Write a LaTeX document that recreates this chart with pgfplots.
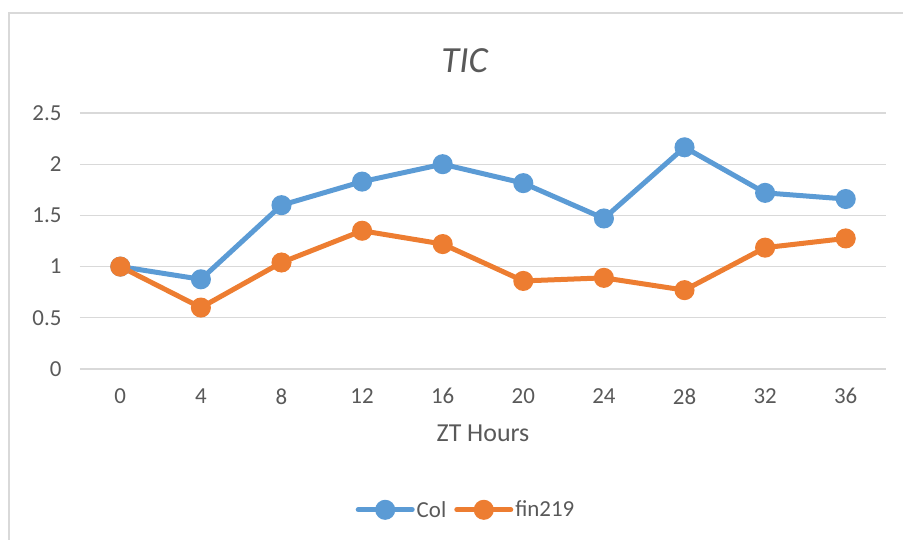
\documentclass[border=0pt]{standalone}
\usepackage{pgfplots}
\pgfplotsset{compat=1.18}
\usepackage{fontspec}
\setmainfont{Carlito}
\definecolor{txt}{HTML}{595959}
\definecolor{gridc}{HTML}{D9D9D9}
\definecolor{colblue}{HTML}{5B9BD5}
\definecolor{finorange}{HTML}{ED7D31}
\begin{document}
\begin{tikzpicture}[x=1bp,y=1bp]
\begin{axis}[
  scale only axis, width=806bp, height=256bp,
  xmin=-0.5, xmax=9.5, ymin=0, ymax=2.5,
  xtick={0,...,9},
  xticklabels={0,4,8,12,16,20,24,28,32,36},
  ytick={0,0.5,1,1.5,2,2.5},
  yticklabels={0,0.5,1,1.5,2,2.5},
  axis line style={draw=none},
  major tick length=0pt,
  ymajorgrids, grid style={gridc, line width=1.3bp},
  tick label style={font=\fontsize{23}{26}\selectfont, text=txt},
  yticklabel style={xshift=-15bp},
  xticklabel style={yshift=-16bp},
  xlabel={ZT Hours},
  xlabel style={font=\fontsize{26}{29}\selectfont, text=txt, yshift=-14bp},
  title={\textit{TIC}},
  title style={font=\fontsize{37}{40}\selectfont, text=txt, yshift=31bp, xshift=-18bp},
  legend style={at={(0.5,-0.55)}, anchor=center, xshift=-17bp, draw=none, fill=none,
    legend columns=2, font=\fontsize{23}{26}\selectfont, text=txt,
    nodes={inner xsep=2bp},
    /tikz/every even column/.append style={column sep=6bp}},
  legend image code/.code={
    \draw[#1, line width=5bp, line cap=round] (0bp,0bp) -- (54bp,0bp);
    \fill[#1] (27bp,0bp) circle (7.5bp);},
]
\addplot[colblue, line width=5bp, mark=*, mark size=7.5bp, mark options={solid}]
  coordinates {(0,1.00) (1,0.876) (2,1.60) (3,1.83) (4,2.00) (5,1.815) (6,1.47) (7,2.165) (8,1.72) (9,1.66)};
\addlegendentry{Col}
\addplot[finorange, line width=5bp, mark=*, mark size=7.5bp, mark options={solid}]
  coordinates {(0,1.00) (1,0.60) (2,1.04) (3,1.35) (4,1.22) (5,0.86) (6,0.89) (7,0.77) (8,1.185) (9,1.275)};
\addlegendentry{fin219}
\coordinate (sw) at (axis cs:-0.5,0);
\end{axis}
% page extent and chart frame, measured from the plot corner
\pgfresetboundingbox
\path[use as bounding box, shift={(sw)}] (-80,369) rectangle (823,-171);
\begin{scope}[shift={(sw)}]
\draw[gridc, line width=1.2bp] (-71,-171) -- (-71,356) -- (823,356);
\end{scope}
\end{tikzpicture}
\end{document}
